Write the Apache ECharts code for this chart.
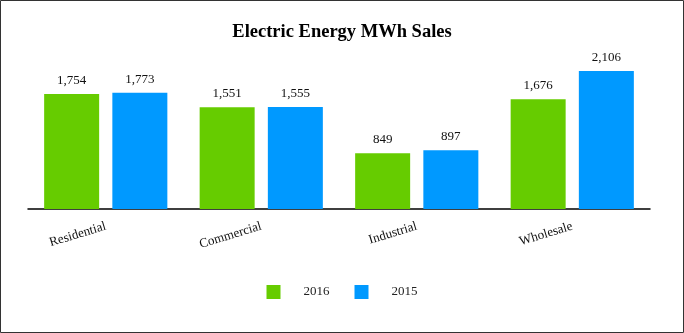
<!DOCTYPE html>
<html><head><meta charset="utf-8">
<script src="https://cdn.jsdelivr.net/npm/echarts@6/dist/echarts.min.js"></script>
<style>html,body{margin:0;padding:0;background:#fff}#c{width:684px;height:333px}</style>
</head><body><div id="c"></div>
<script>
const categories = ['Residential', 'Commercial', 'Industrial', 'Wholesale'];
const seriesNames = ['2016', '2015'];
const values2016 = [1754, 1551, 849, 1676];
const values2015 = [1773, 1555, 897, 2106];
const colors = ['#66CC00', '#0099FF'];
const fontFam = '"Liberation Serif", "Times New Roman", serif';

const chart = echarts.init(document.getElementById('c'));
const labelCfg = {show: true, position: 'top', distance: 7, color: '#111', fontFamily: fontFam, fontSize: 13,
  formatter: p => p.value.toLocaleString('en-US')};
chart.setOption({
  animation: false,
  title: {text: 'Electric Energy MWh Sales', left: 'center', top: 18,
    textStyle: {fontFamily: fontFam, fontWeight: 'bold', fontSize: 18.5, color: '#000'}},
  legend: {bottom: 29, left: 'center', itemWidth: 14, itemHeight: 14, itemGap: 25, icon: 'rect',
    textStyle: {fontFamily: fontFam, fontSize: 13, color: '#222', padding: [0, 0, 0, 18]},
    data: seriesNames},
  grid: {left: 28, right: 34, top: 51.7, bottom: 124, containLabel: false},
  xAxis: {type: 'category', data: categories,
    axisLine: {lineStyle: {color: '#000', width: 1.5}},
    axisTick: {alignWithLabel: true, length: 5, lineStyle: {color: '#000'}},
    axisLabel: {rotate: 17, margin: 17, fontFamily: fontFam, fontSize: 13, color: '#111'}},
  yAxis: {type: 'value', min: 0, max: 2400, show: false, splitLine: {show: false}},
  series: [
    {name: seriesNames[0], type: 'bar', data: values2016, barWidth: 55, barGap: '24%', itemStyle: {color: colors[0]}, label: labelCfg},
    {name: seriesNames[1], type: 'bar', data: values2015, barWidth: 55, itemStyle: {color: colors[1]}, label: labelCfg}
  ],
  graphic: [{type: 'rect', shape: {x: 0.5, y: 0.5, width: 683, height: 332}, style: {fill: 'none', stroke: '#333', lineWidth: 1}}]
});
</script></body></html>
